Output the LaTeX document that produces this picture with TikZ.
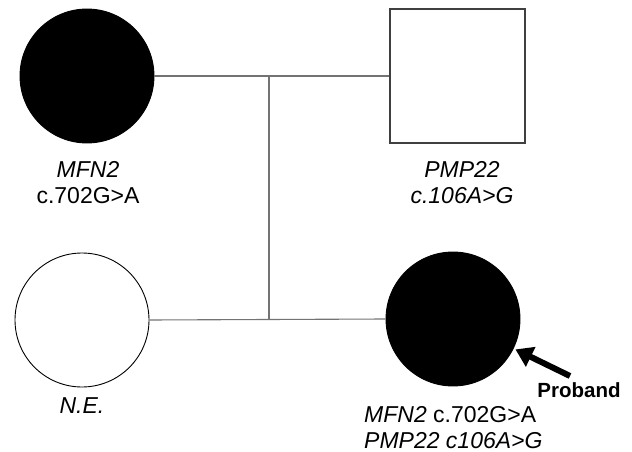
\documentclass[tikz,border=0pt]{standalone}
\usepackage{fontspec}
\setmainfont{Liberation Sans}
\usetikzlibrary{arrows.meta}
\begin{document}
\begin{tikzpicture}[x=1pt,y=-1pt,
  person/.style={circle,draw=black,line width=0.9pt,minimum size=134pt,inner sep=0pt},
  affected/.style={person,fill=black},
  male/.style={rectangle,draw=black!75,line width=1.1pt,minimum width=135pt,minimum height=134pt,inner sep=0pt},
  link/.style={draw=black!55,line width=1.1pt},
  lbl/.style={font=\fontsize{23}{26}\selectfont,inner sep=0pt,anchor=base},
  pointer/.style={line width=6pt,-{Triangle[length=17pt,width=21pt]}}
]
\useasboundingbox (0,0) rectangle (632,452);

\node[affected] (mfn) at (87,76) {};
\node[male] (pmp) at (457.5,76) {};
\node[person] (ne) at (82,320) {};
\node[affected] (proband) at (453,319) {};

\coordinate (m1) at (269,76);
\coordinate (m2) at (269,319.5);
\draw[link] (mfn.east) -- (pmp.west);
\draw[link] (ne.east) -- (proband.west);
\draw[link] (m1) -- (m2);

\node[lbl] (t1) at (88,177) {\itshape MFN2};
\node[lbl] (t2) at (88,203) {c.702G>A};
\node[lbl] (t3) at (462,177) {\itshape PMP22};
\node[lbl] (t4) at (462,203) {\itshape c.106A>G};
\node[lbl] (t5) at (82,413) {\itshape N.E.};
\node[lbl,anchor=base west] (t6) at (364,422) {\itshape MFN2\upshape{} c.702G>A};
\node[lbl,anchor=base west] (t7) at (364,448) {\itshape PMP22 c106A>G};
\node[lbl,font=\fontsize{20.5}{24}\bfseries\selectfont] (pb) at (579,397) {Proband};

\coordinate (tail) at (570,376);
\draw[pointer,shorten >=2pt] (tail) -- (proband);
\end{tikzpicture}
\end{document}
